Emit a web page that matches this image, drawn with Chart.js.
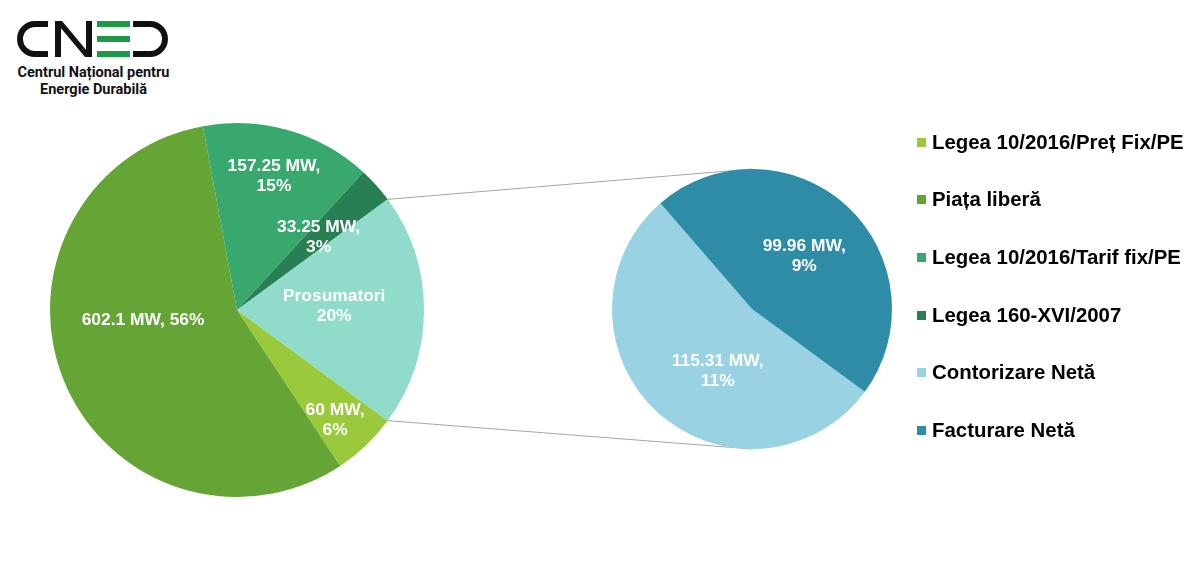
<!DOCTYPE html>
<html lang="ro">
<head>
<meta charset="UTF-8">
<title>Capacități instalate - CNED</title>
<script src="https://cdn.jsdelivr.net/npm/chart.js"></script>
<style>
body {
margin: 0;
width: 1200px;
height: 562px;
background: #ffffff;
position: relative;
overflow: hidden;
font-family: 'Liberation Sans', Arial, sans-serif;
}
canvas { position: absolute; left: 0; top: 0; }
.logo { position: absolute; left: 0; top: 0; }
.logo-text {
position: absolute;
left: 0;
top: 64px;
width: 187px;
text-align: center;
font-family: Roboto, sans-serif;
font-weight: 700;
font-size: 14.5px;
line-height: 17px;
color: #111;
}
.legend-item {
position: absolute;
left: 917px;
height: 24px;
display: flex;
align-items: center;
white-space: nowrap;
font-weight: 700;
font-size: 20.4px;
color: #000;
}
.legend-box { width: 9px; height: 9px; margin-right: 6px; }
</style>
</head>
<body>
<svg class="logo" width="180" height="62" viewBox="0 0 180 62">
<path d="M48 24 H35 A15 15 0 0 0 35 54 H48" fill="none" stroke="#111" stroke-width="6"/>
<rect x="55" y="21" width="6" height="36" fill="#111"/>
<rect x="86" y="21" width="6" height="36" fill="#111"/>
<polygon points="55,21 62,21 92,57 85,57" fill="#111"/>
<rect x="97" y="21" width="33" height="6" fill="#1b9a48"/>
<rect x="97" y="36" width="33" height="6" fill="#1b9a48"/>
<rect x="97" y="51" width="33" height="6" fill="#1b9a48"/>
<path d="M133 24 H150 A15 15 0 0 1 150 54 H133" fill="none" stroke="#111" stroke-width="6"/>
</svg>
<div class="logo-text">Centrul Național pentru<br>Energie Durabilă</div>

<canvas id="mainPie" width="1200" height="562"></canvas>
<canvas id="subPie" width="1200" height="562"></canvas>
<div id="legend"></div>

<script>
// Main pie: installed capacity by support scheme (MW)
const mainLabels = ['Legea 10/2016/Preț Fix/PE', 'Piața liberă', 'Legea 10/2016/Tarif fix/PE', 'Legea 160-XVI/2007'];
const mainValues = [60, 602.1, 157.25, 33.25];
const otherLabel = 'Prosumatori';

// Secondary pie: breakdown of prosumers (MW)
const subLabels = ['Contorizare Netă', 'Facturare Netă'];
const subValues = [115.31, 99.96];

const mainColors = ['#9aca3c', '#64a536', '#38a86e', '#287f53'];
const otherColor = '#90dbca';
const subColors = ['#98d2e3', '#2f8ca6'];

const otherValue = subValues.reduce((a, b) => a + b, 0);
const total = mainValues.reduce((a, b) => a + b, 0) + otherValue;
const pct = v => Math.round(v / total * 100) + '%';

// prosumer slice centred at 3 o'clock, like Excel's pie-of-pie
const rotation = 90 + otherValue / total * 180;

// label text per slice
const mainText = mainValues.map((v, i) => i === 1 ? [`${v} MW, ${pct(v)}`] : [`${v} MW,`, pct(v)]);
mainText.push([otherLabel, pct(otherValue)]);
const subText = subValues.map(v => [`${v} MW,`, pct(v)]);

// label placement: fraction of radius + angle shift from slice middle (deg)
const mainPlace = [
{ f: 0.79, shift: 2 },
{ f: 0.505, shift: 16 },
{ f: 0.74, shift: -0.5 },
{ f: 0.586, shift: 0 },
{ f: 0.52, shift: -2 }
];
const subPlace = [
{ f: 0.51, shift: -14 },
{ f: 0.53, shift: 2 }
];

function sliceLabels(id, text, place) {
return {
id: id,
afterDatasetsDraw(chart) {
const ctx = chart.ctx;
const arcs = chart.getDatasetMeta(0).data;
ctx.save();
ctx.fillStyle = '#ffffff';
ctx.font = 'bold 17.4px "Liberation Sans", Arial, sans-serif';
ctx.textAlign = 'center';
ctx.textBaseline = 'middle';
arcs.forEach((arc, i) => {
const p = arc.getProps(['x', 'y', 'startAngle', 'endAngle', 'outerRadius'], true);
const a = (p.startAngle + p.endAngle) / 2 + place[i].shift * Math.PI / 180;
const cx = p.x + Math.cos(a) * p.outerRadius * place[i].f;
const cy = p.y + Math.sin(a) * p.outerRadius * place[i].f;
const lines = text[i];
lines.forEach((t, k) => ctx.fillText(t, cx, cy + (k - (lines.length - 1) / 2) * 20));
});
ctx.restore();
}
};
}

const baseOptions = {
responsive: false,
animation: false,
rotation: rotation,
plugins: { legend: { display: false }, tooltip: { enabled: false } }
};

const mainChart = new Chart(document.getElementById('mainPie'), {
type: 'pie',
data: {
labels: [...mainLabels, otherLabel],
datasets: [{
data: [...mainValues, otherValue],
backgroundColor: [...mainColors, otherColor],
borderWidth: 0
}]
},
options: { ...baseOptions, layout: { padding: { left: 50, right: 776, top: 123, bottom: 65 } } },
plugins: [sliceLabels('mainLabels', mainText, mainPlace)]
});

// lines from the prosumer slice edges to the secondary pie
const connectors = {
id: 'connectors',
beforeDatasetsDraw(chart) {
const s = mainChart.getDatasetMeta(0).data[mainValues.length].getProps(['x', 'y', 'startAngle', 'endAngle', 'outerRadius'], true);
const d = chart.getDatasetMeta(0).data[0].getProps(['x', 'y', 'outerRadius'], true);
const ctx = chart.ctx;
ctx.save();
ctx.strokeStyle = '#a6a6a6';
ctx.lineWidth = 1;
ctx.beginPath();
ctx.moveTo(s.x + Math.cos(s.startAngle) * s.outerRadius, s.y + Math.sin(s.startAngle) * s.outerRadius);
ctx.lineTo(d.x, d.y - d.outerRadius);
ctx.moveTo(s.x + Math.cos(s.endAngle) * s.outerRadius, s.y + Math.sin(s.endAngle) * s.outerRadius);
ctx.lineTo(d.x, d.y + d.outerRadius);
ctx.stroke();
ctx.restore();
}
};

new Chart(document.getElementById('subPie'), {
type: 'pie',
data: {
labels: subLabels,
datasets: [{
data: subValues,
backgroundColor: subColors,
borderWidth: 0
}]
},
options: { ...baseOptions, layout: { padding: { left: 612, right: 308, top: 169, bottom: 113 } } },
plugins: [connectors, sliceLabels('subLabels', subText, subPlace)]
});

// legend (main categories + secondary breakdown, prosumer total left out)
const legend = document.getElementById('legend');
[...mainLabels, ...subLabels].forEach((label, i) => {
const item = document.createElement('div');
item.className = 'legend-item';
item.style.top = (130 + i * 57.7) + 'px';
const box = document.createElement('span');
box.className = 'legend-box';
box.style.background = [...mainColors, ...subColors][i];
item.appendChild(box);
item.appendChild(document.createTextNode(label));
legend.appendChild(item);
});
</script>
</body>
</html>
